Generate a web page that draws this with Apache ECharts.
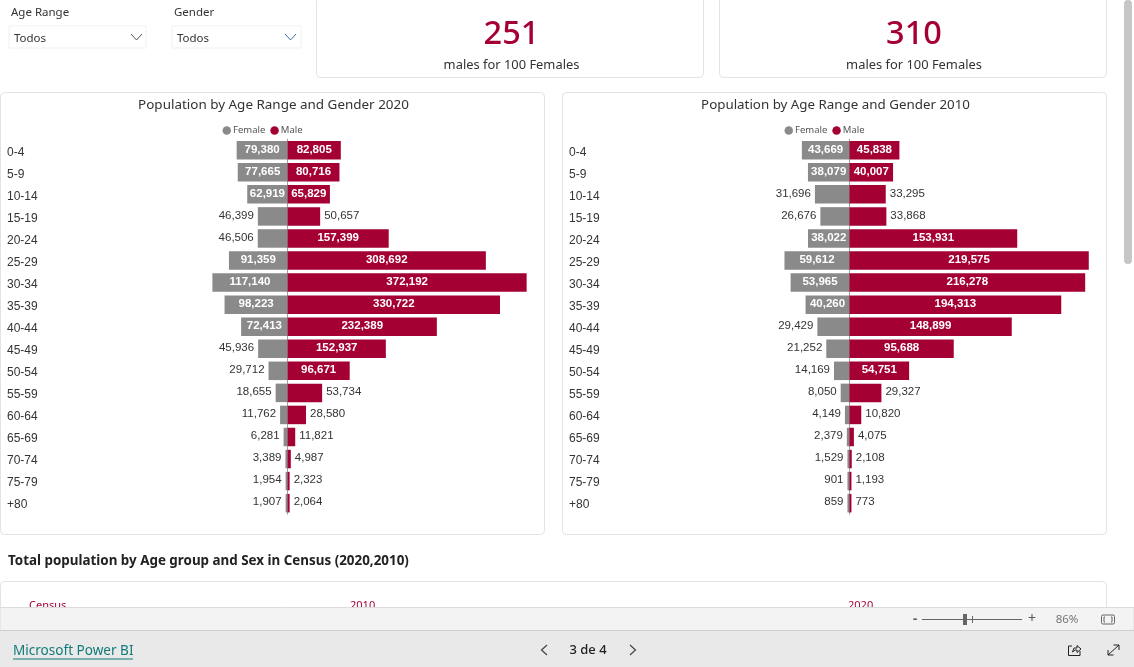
<!DOCTYPE html>
<html><head><meta charset="utf-8">
<style>html,body{margin:0;padding:0;background:#fff;overflow:hidden}#c{width:1134px;height:667px}</style>
<script src="https://cdn.jsdelivr.net/npm/echarts@6/dist/echarts.min.js"></script>
</head><body><div id="c"></div>
<script>
const ageRanges = ['0-4','5-9','10-14','15-19','20-24','25-29','30-34','35-39','40-44','45-49','50-54','55-59','60-64','65-69','70-74','75-79','+80'];
const female2020 = [79380,77665,62919,46399,46506,91359,117140,98223,72413,45936,29712,18655,11762,6281,3389,1954,1907];
const male2020 = [82805,80716,65829,50657,157399,308692,372192,330722,232389,152937,96671,53734,28580,11821,4987,2323,2064];
const female2010 = [43669,38079,31696,26676,38022,59612,53965,40260,29429,21252,14169,8050,4149,2379,1529,901,859];
const male2010 = [45838,40007,33295,33868,153931,219575,216278,194313,148899,95688,54751,29327,10820,4075,2108,1193,773];
const ratio2020 = '251', ratio2010 = '310';

const GREY = '#8a8a8a', RED = '#a50034';
const UI = '"Noto Sans", sans-serif', NUM = '"Liberation Sans", Arial, sans-serif';
const fmt = v => Math.abs(v).toLocaleString('en-US');

function barData(values, sign, pxPerUnit) {
  return values.map(v => {
    const inside = v * pxPerUnit >= 38;
    return {
      value: sign * v,
      label: inside
        ? {position: 'inside', color: '#fff', fontWeight: 'bold', offset: [0, -0.5]}
        : {position: sign < 0 ? 'left' : 'right', color: '#333', fontWeight: 'normal', distance: 4, offset: [0, -1]}
    };
  });
}
function barSeries(name, values, sign, idx, color, ppu) {
  return {
    type: 'bar', name, stack: 's' + idx, xAxisIndex: idx, yAxisIndex: idx,
    barWidth: 18.5, barMinHeight: 2, data: barData(values, sign, ppu), silent: true,
    itemStyle: {color},
    label: {show: true, fontFamily: NUM, fontSize: 11.5, formatter: p => fmt(p.value)}
  };
}
const panels = [
  {left: 7, width: 533, min: -437000, max: 393000, f: female2020, m: male2020},
  {left: 569, width: 533, min: -257300, max: 231700, f: female2010, m: male2010}
];
const grids = panels.map(p => ({left: p.left, width: p.width, top: 139.2, height: 375, containLabel: false}));
const xAxes = panels.map((p, i) => ({type: 'value', gridIndex: i, min: p.min, max: p.max, show: false}));
const yAxes = panels.map((p, i) => ({
  type: 'category', gridIndex: i, inverse: true, data: ageRanges,
  axisTick: {show: false},
  axisLine: {show: true, onZero: true, lineStyle: {color: '#a0a0a0', width: 1}},
  axisLabel: {align: 'left', margin: 0, inside: false, color: '#333', fontFamily: NUM, fontSize: 12,
    verticalAlign: 'top', lineHeight: 4},
  splitLine: {show: false}
}));
const series = [];
panels.forEach((p, i) => {
  const ppu = p.width / (p.max - p.min);
  series.push(barSeries('Female', p.f, -1, i, GREY, ppu));
  series.push(barSeries('Male', p.m, 1, i, RED, ppu));
});

function box(x, y, w, h, stroke, r, fill) {
  return {type: 'rect', shape: {x, y, width: w, height: h, r: r || 0}, silent: true, z: 0,
    style: {fill: fill || '#fff', stroke: stroke || 'none', lineWidth: 1}};
}
function txt(x, y, text, size, color, extra, z) {
  return {type: 'text', x, y, silent: true, z: z || 50, style: Object.assign({text, fontSize: size, fill: color,
    fontFamily: UI, verticalAlign: 'middle'}, extra || {})};
}
function poly(points, color, w, z) {
  return {type: 'polyline', shape: {points}, silent: true, z: z || 50, style: {stroke: color, fill: 'none', lineWidth: w || 1}};
}
const CH = '#e3e3e3';
const graphics = [
  box(316.5, -3, 387, 80.5, CH, 4), box(719.5, -3, 387, 80.5, CH, 4),
  box(0.5, 92.5, 544, 442, CH, 4), box(562.5, 92.5, 544, 442, CH, 4),
  box(0.5, 581.5, 1106, 60, CH, 4),
  box(9, 26, 137, 22, '#f1f1f1'), box(172, 26, 129, 22, '#f1f1f1'),
  txt(11, 13, 'Age Range', 11.5, '#333'), txt(174, 13, 'Gender', 11.5, '#333'),
  txt(14, 39, 'Todos', 11.5, '#333'), txt(177, 39, 'Todos', 11.5, '#333'),
  poly([[131,34],[136.5,40],[142,34]], '#555'), poly([[285,34],[290.5,40],[296,34]], '#3a6ea5'),
  txt(511.5, 35, ratio2020, 32.5, RED, {align: 'center', fontWeight: 500}), txt(511.5, 65.5, 'males for 100 Females', 12.9, '#333', {align: 'center'}),
  txt(914, 35, ratio2010, 32.5, RED, {align: 'center', fontWeight: 500}), txt(914, 65.5, 'males for 100 Females', 12.9, '#333', {align: 'center'}),
  txt(273.5, 105, 'Population by Age Range and Gender 2020', 13.45, '#333', {align: 'center'}),
  txt(835.5, 105, 'Population by Age Range and Gender 2010', 13.35, '#333', {align: 'center'}),
  txt(8, 561, 'Total population by Age group and Sex in Census (2020,2010)', 13.4, '#222', {fontWeight: 'bold'}),
  txt(29, 606, 'Census', 11, RED), txt(350, 606, '2010', 11, RED), txt(848, 606, '2020', 11, RED),
  {type: 'rect', shape: {x: 0, y: 607.5, width: 1134, height: 23}, silent: true, z: 60, style: {fill: '#f3f3f3', stroke: '#dcdcdc', lineWidth: 1}},
  {type: 'rect', shape: {x: 0, y: 630, width: 1134, height: 37}, silent: true, z: 60, style: {fill: '#e9e9e9'}},
  {type: 'rect', shape: {x: 0, y: 630, width: 1134, height: 1}, silent: true, z: 61, style: {fill: '#cfcfcf'}},
  {type: 'rect', shape: {x: 1124, y: 0, width: 8, height: 264, r: 4}, silent: true, z: 60, style: {fill: '#c6c6c6'}},
  txt(13, 651.5, 'Microsoft Power BI', 13.55, '#117a7a', null, 70),
  {type: 'rect', shape: {x: 13, y: 658.5, width: 120, height: 1}, silent: true, z: 70, style: {fill: '#117a7a'}},
  txt(588, 650.5, '3 de 4', 13, '#222', {align: 'center', fontWeight: 500}, 70),
  poly([[547,645],[541.5,650],[547,655]], '#444', 1.2, 70), poly([[630,645],[635.5,650],[630,655]], '#444', 1.2, 70),
  txt(915, 619, '-', 13, '#555', {align: 'center', fontWeight: 'bold'}, 70),
  poly([[922,619.5],[1022,619.5]], '#666', 1, 70), poly([[972.5,616],[972.5,623]], '#666', 1, 70),
  {type: 'rect', shape: {x: 963, y: 614, width: 4, height: 11}, silent: true, z: 71, style: {fill: '#666'}},
  txt(1032, 619, '+', 14, '#555', {align: 'center'}, 70),
  txt(1067, 619.5, '86%', 11.5, '#777', {align: 'center'}, 70),
  {type: 'rect', shape: {x: 1101.5, y: 615, width: 13, height: 9, r: 1.5}, silent: true, z: 70, style: {fill: 'none', stroke: '#666'}},
  poly([[1105,617],[1104,617],[1104,622],[1105,622]], '#666', 1, 71), poly([[1111,617],[1112,617],[1112,622],[1111,622]], '#666', 1, 71),
  poly([[1072,646],[1068.5,646],[1068.5,655.5],[1080,655.5],[1080,651]], '#222', 1, 70),
  poly([[1072.5,652],[1074,648],[1077,648],[1077,645.5],[1081,649],[1077,652.5],[1077,650],[1075,650],[1072.5,652]], '#222', 1, 70),
  poly([[1108,655],[1119,645]], '#222', 1, 70), poly([[1113.5,645],[1119,645],[1119,650]], '#222', 1, 70), poly([[1108,650],[1108,655],[1113.5,655]], '#222', 1, 70)
];

const legendBase = {show: true, data: ['Female', 'Male'], icon: 'circle', itemWidth: 8.5, itemHeight: 8.5, itemGap: 5, selectedMode: false,
  textStyle: {color: '#555', fontSize: 9.5, fontFamily: UI, padding: [0, 0, 0, -3]}, padding: 0, top: 125.5};
const chart = echarts.init(document.getElementById('c'), null, {renderer: 'canvas'});
chart.setOption({
  animation: false, backgroundColor: '#fff',
  legend: [Object.assign({left: 222.5}, legendBase), Object.assign({left: 784.5}, legendBase)],
  grid: grids, xAxis: xAxes, yAxis: yAxes, series, graphic: {elements: graphics}
});
</script></body></html>
